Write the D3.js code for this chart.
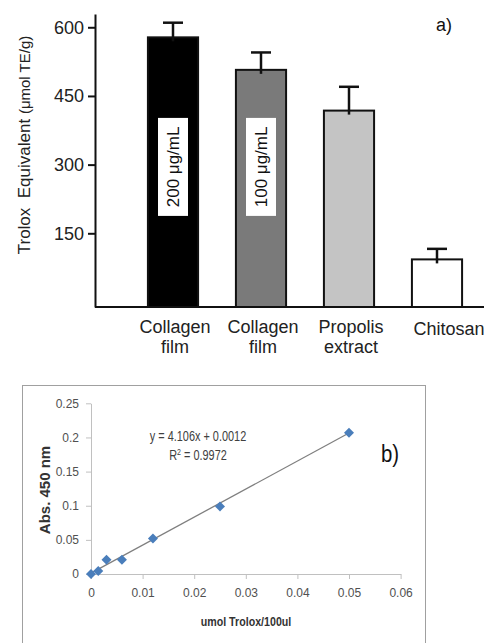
<!DOCTYPE html>
<html>
<head>
<meta charset="utf-8">
<script src="https://cdn.jsdelivr.net/npm/d3@7"></script>
<style>
  body { margin: 0; background: #fff; }
  svg { display: block; }
  .a-axis text { font-family: "Liberation Sans", Arial, sans-serif; font-size: 18px; fill: #222; }
  .a-axis path, .a-axis line { stroke: #111; stroke-width: 2; }
  .b-axis text { font-family: "Liberation Sans", Arial, sans-serif; font-size: 12px; fill: #505050; }
  .b-axis path, .b-axis line { stroke: #c0c0c0; stroke-width: 1; }
</style>
</head>
<body>
<script>

const WIDTH = 484;
const HEIGHT = 643;

// panel a) data
const categories = [["Collagen", "film"], ["Collagen", "film"], ["Propolis", "extract"], ["Chitosan"]];
const teValues = [578, 507, 418, 93];
const teErrors = [32, 38, 52, 23];
const barLabels = ["200 μg/mL", "100 μg/mL", null, null];
const barColors = ["#000000", "#7a7a7a", "#c4c4c4", "#ffffff"];
const aTicks = [150, 300, 450, 600];

// panel b) data
const troloxX = [0, 0.0014, 0.003, 0.006, 0.012, 0.025, 0.05];
const absY = [0, 0.0045, 0.021, 0.021, 0.052, 0.099, 0.207];
const slope = 4.106;
const intercept = 0.0012;
const bXTicks = [0, 0.01, 0.02, 0.03, 0.04, 0.05, 0.06];
const bYTicks = [0, 0.05, 0.1, 0.15, 0.2, 0.25];

let svg = d3.select("body")
            .append("svg")
            .attr("width", WIDTH)
            .attr("height", HEIGHT);

// ---------- panel a ----------
const yA = d3.scaleLinear().domain([-11, 629]).range([307, 14]);
const xA = d3.scaleBand()
             .domain(d3.range(categories.length))
             .range([129, 481])
             .paddingInner(0.43)
             .paddingOuter(0.215);

svg.append("g")
   .attr("class", "a-axis")
   .attr("transform", "translate(95,0)")
   .call(d3.axisLeft(yA).tickValues(aTicks).tickSize(7).tickSizeOuter(0).tickPadding(4));

svg.append("line")
   .attr("x1", 95).attr("x2", WIDTH)
   .attr("y1", yA(-11)).attr("y2", yA(-11))
   .attr("stroke", "#111").attr("stroke-width", 2);

let bars = svg.selectAll("g.bar")
              .data(teValues)
              .enter().append("g")
              .attr("class", "bar");

bars.append("rect")
    .attr("x", (d, i) => xA(i))
    .attr("y", d => yA(d))
    .attr("width", xA.bandwidth())
    .attr("height", d => yA(-11) - yA(d))
    .attr("fill", (d, i) => barColors[i])
    .attr("stroke", "#111")
    .attr("stroke-width", 2);

// error bar stem pokes a little into the bar top
bars.append("line")
    .attr("x1", (d, i) => xA(i) + xA.bandwidth() / 2)
    .attr("x2", (d, i) => xA(i) + xA.bandwidth() / 2)
    .attr("y1", d => yA(d) + 4)
    .attr("y2", (d, i) => yA(d + teErrors[i]))
    .attr("stroke", "#111").attr("stroke-width", 2.5);

bars.append("line")
    .attr("x1", (d, i) => xA(i) + xA.bandwidth() / 2 - 10)
    .attr("x2", (d, i) => xA(i) + xA.bandwidth() / 2 + 10)
    .attr("y1", (d, i) => yA(d + teErrors[i]))
    .attr("y2", (d, i) => yA(d + teErrors[i]))
    .attr("stroke", "#111").attr("stroke-width", 2.5);

bars.filter((d, i) => barLabels[i])
    .each(function(d, i) {
      const g = d3.select(this);
      const cx = xA(i) + xA.bandwidth() / 2;
      const cy = yA(295);
      g.append("rect")
       .attr("x", cx - 15).attr("y", cy - 49)
       .attr("width", 30).attr("height", 98)
       .attr("fill", "#fff");
      g.append("text")
       .attr("transform", `translate(${cx + 6},${cy}) rotate(-90)`)
       .attr("text-anchor", "middle")
       .style("font-family", "Liberation Sans, Arial, sans-serif")
       .style("font-size", "17px")
       .attr("fill", "#111")
       .text(barLabels[i]);
    });

let catText = svg.selectAll("text.cat")
                 .data(categories)
                 .enter().append("text")
                 .attr("class", "cat")
                 .attr("text-anchor", "middle")
                 .style("font-family", "Liberation Sans, Arial, sans-serif")
                 .style("font-size", "18px")
                 .attr("fill", "#222")
                 .attr("transform", (d, i) => `translate(${xA(i) + xA.bandwidth() / 2 + (d.length === 1 ? 12 : 2)},${d.length === 1 ? 335 : 333})`);

catText.selectAll("tspan")
       .data(d => d)
       .enter().append("tspan")
       .attr("x", 0)
       .attr("dy", (d, i) => i === 0 ? 0 : 20)
       .text(d => d);

let yTitle = svg.append("text")
                .attr("transform", "translate(30,145) rotate(-90)")
                .attr("text-anchor", "middle")
                .style("font-family", "Liberation Sans, Arial, sans-serif")
                .style("font-size", "17px")
                .attr("fill", "#222");
yTitle.append("tspan").text("Trolox\u00a0 Equivalent ");
yTitle.append("tspan").style("font-size", "15px").text("(μmol TE/g)");

svg.append("text")
   .attr("x", 436).attr("y", 31)
   .style("font-family", "Liberation Sans, Arial, sans-serif")
   .style("font-size", "18px")
   .attr("fill", "#111")
   .text("a)");

// ---------- panel b ----------
svg.append("rect")
   .attr("x", 22.5).attr("y", 385.5)
   .attr("width", 403).attr("height", 300)
   .attr("fill", "none")
   .attr("stroke", "#a0a0a0");

const xB = d3.scaleLinear().domain([0, 0.06]).range([91, 400.6]);
const yB = d3.scaleLinear().domain([0, 0.25]).range([574, 403.3]);

svg.append("g")
   .attr("class", "b-axis")
   .attr("transform", "translate(0,574)")
   .call(d3.axisBottom(xB).tickValues(bXTicks).tickSize(5).tickSizeOuter(0).tickPadding(9)
           .tickFormat(d => d === 0 ? "0" : d3.format(".2f")(d)));

svg.append("g")
   .attr("class", "b-axis")
   .attr("transform", "translate(91,0)")
   .call(d3.axisLeft(yB).tickValues(bYTicks).tickSize(5).tickSizeOuter(0).tickPadding(7)
           .tickFormat(d => d === 0 ? "0" : d3.format("~g")(d)));

svg.append("line")
   .attr("x1", xB(0)).attr("y1", yB(slope * 0 + intercept))
   .attr("x2", xB(0.05)).attr("y2", yB(slope * 0.05 + intercept))
   .attr("stroke", "#7f7f7f").attr("stroke-width", 1.3);

svg.selectAll("path.pt")
   .data(troloxX)
   .enter().append("path")
   .attr("class", "pt")
   .attr("d", d3.symbol().type(d3.symbolSquare).size(50))
   .attr("transform", (d, i) => `translate(${xB(d)},${yB(absY[i])}) rotate(45)`)
   .attr("fill", "#4a7ebb");

const FONT = "Liberation Sans, Arial, sans-serif";

// Calibri-like narrow text: squeeze horizontally
svg.append("text")
   .attr("transform", "translate(198,441) scale(0.78,1)")
   .attr("text-anchor", "middle")
   .style("font-family", FONT).style("font-size", "14px")
   .attr("fill", "#404040")
   .text(`y = ${slope}x + ${intercept}`);

let r2 = svg.append("text")
            .attr("transform", "translate(198,460) scale(0.78,1)")
            .attr("text-anchor", "middle")
            .style("font-family", FONT).style("font-size", "14px")
            .attr("fill", "#404040");
r2.append("tspan").text("R");
r2.append("tspan").attr("dy", -5).style("font-size", "9px").text("2");
r2.append("tspan").attr("dy", 5).text(" = 0.9972");

svg.append("text")
   .attr("transform", "translate(381,462) scale(0.85,1)")
   .style("font-family", FONT).style("font-size", "24px")
   .attr("fill", "#111")
   .text("b)");

svg.append("text")
   .attr("transform", "translate(246,626) scale(0.82,1)")
   .attr("text-anchor", "middle")
   .style("font-family", FONT).style("font-size", "13px").style("font-weight", "bold")
   .attr("fill", "#333")
   .text("umol Trolox/100ul");

svg.append("text")
   .attr("transform", "translate(50,490) rotate(-90)")
   .attr("text-anchor", "middle")
   .style("font-family", FONT).style("font-size", "15px").style("font-weight", "bold")
   .attr("fill", "#333")
   .text("Abs. 450 nm");

</script>
</body>
</html>
